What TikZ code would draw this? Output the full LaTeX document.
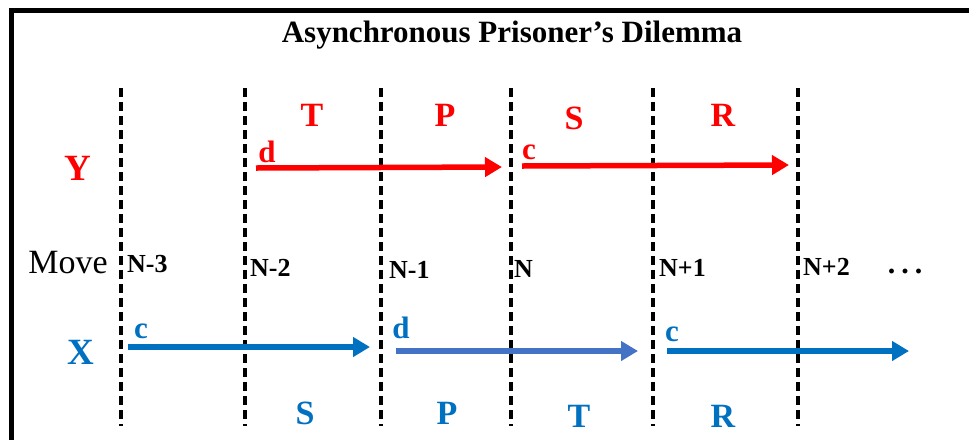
\documentclass[tikz,border=0pt]{standalone}
\usepackage{fontspec}
\setmainfont{Liberation Serif}
\usetikzlibrary{arrows.meta}
\definecolor{playY}{RGB}{255,0,0}
\definecolor{playX}{RGB}{0,112,192}
\definecolor{playXd}{RGB}{68,114,196}

\begin{document}
\begin{tikzpicture}[x=1pt,y=-1pt,
    pay/.style={font=\fontsize{34}{34}\selectfont\bfseries,anchor=base,inner sep=0pt},
    act/.style={font=\fontsize{31}{31}\selectfont\bfseries,anchor=base,inner sep=0pt},
    mv/.style={font=\fontsize{26}{26}\selectfont\bfseries,anchor=base west,inner sep=0pt},
    sep/.style={line width=3.5pt,dash pattern=on 9pt off 5pt},
    arr/.style={line width=5.5pt,-{Triangle[length=17pt,width=19pt]}}]
  \useasboundingbox (0,0) rectangle (969,440);
  \draw[line width=5pt,line join=miter] (969,10.5) -- (11,10.5) -- (11,440);
  \node[font=\fontsize{31}{31}\selectfont\bfseries,anchor=base,inner sep=0pt] (title) at (512,42) {Asynchronous Prisoner’s Dilemma};

  \foreach \i/\x in {1/121,2/245,3/381,4/511,5/653,6/798}{
    \coordinate (t\i) at (\x,88);
    \coordinate (b\i) at (\x,426);
    \draw[sep] (t\i) -- (b\i);
  }

  % player Y
  \node[pay,playY,font=\fontsize{37}{37}\selectfont\bfseries] (Y) at (78,180) {Y};
  \node[pay,playY] (yT) at (312,126) {T};
  \node[pay,playY] (yP) at (445,126) {P};
  \node[pay,playY] (yS) at (574,129) {S};
  \node[pay,playY] (yR) at (723,126) {R};
  \node[act,playY] (yd) at (267,162) {d};
  \node[act,playY] (yc) at (529,159) {c};
  \coordinate (ya) at (256,168);
  \coordinate (yb) at (502,167);
  \coordinate (yc1) at (522,166);
  \coordinate (yc2) at (789,165);
  \draw[arr,playY] (ya) -- (yb);
  \draw[arr,playY] (yc1) -- (yc2);

  % moves
  \node[font=\fontsize{34}{34}\selectfont,anchor=base,inner sep=0pt] (move) at (68,273) {Move};
  \foreach \i/\n/\x/\b in {1/N-3/127/272,2/N-2/250/276,3/N-1/389/278,4/N/514/277,5/N+1/659/276,6/N+2/803/275}
    \node[mv] (m\i) at (\x,\b) {\n};
  \node[font=\fontsize{30}{30}\selectfont\bfseries,anchor=base,inner sep=0pt] (dots) at (905,273) {.\hspace{6pt}.\hspace{6pt}.};

  % player X
  \node[pay,playX,font=\fontsize{37}{37}\selectfont\bfseries] (X) at (81,364) {X};
  \node[pay,playX] (xS) at (305,424) {S};
  \node[pay,playX] (xP) at (447,424) {P};
  \node[pay,playX] (xT) at (579,427) {T};
  \node[pay,playX] (xR) at (723,427) {R};
  \node[act,playX] (xc) at (141,338) {c};
  \node[act,playX] (xd) at (401,338) {d};
  \node[act,playX] (xc2) at (672,341) {c};
  \coordinate (xa) at (128,347);
  \coordinate (xb) at (370,347);
  \coordinate (xd1) at (396,351);
  \coordinate (xd2) at (638,351);
  \coordinate (xe1) at (667,351);
  \coordinate (xe2) at (909,351);
  \draw[arr,playX] (xa) -- (xb);
  \draw[arr,playXd] (xd1) -- (xd2);
  \draw[arr,playX] (xe1) -- (xe2);
\end{tikzpicture}
\end{document}
